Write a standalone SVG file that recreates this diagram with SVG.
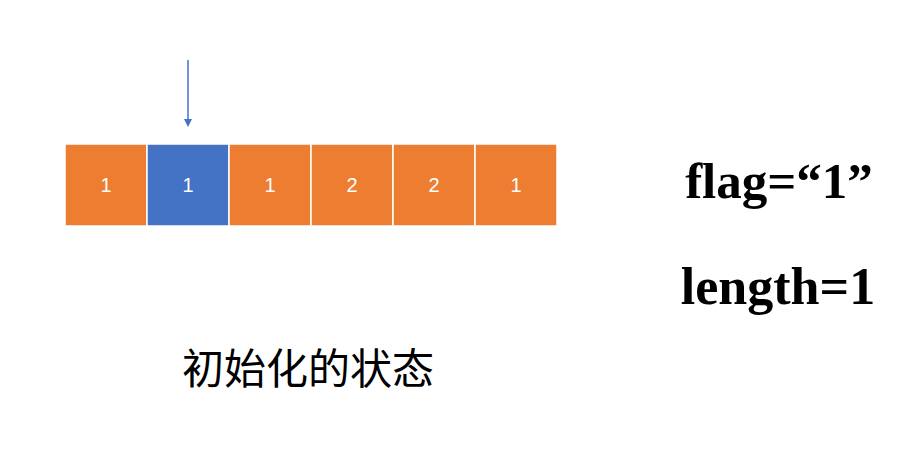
<svg xmlns="http://www.w3.org/2000/svg" width="902" height="474" viewBox="0 0 902 474">
<style>
.cell{stroke:#ffffff;stroke-width:1.5}
.o{fill:#ED7D31}
.b{fill:#4472C4}
.ct{font-family:"Liberation Sans",Arial,sans-serif;font-size:20px;fill:#ffffff;text-anchor:middle}
.big{font-family:"Liberation Serif","Times New Roman",serif;font-weight:bold;font-size:51px;fill:#000;text-anchor:middle}
.cap{font-family:"Noto Sans CJK SC",sans-serif;font-size:42px;fill:#000;text-anchor:middle}
</style>
<defs>
<marker id="ah" markerWidth="8" markerHeight="8" refX="4" refY="4" orient="auto" markerUnits="userSpaceOnUse">
<path d="M0,0 L8,4 L0,8 Z" fill="#4472C4"/>
</marker>
</defs>
<rect width="902" height="474" fill="#ffffff"/>
<g id="connectors">
<line x1="188" y1="60" x2="188" y2="123" stroke="#4472C4" stroke-width="1.5" marker-end="url(#ah)"/>
</g>
<g id="cell1"><rect class="cell o" x="65" y="144" width="82" height="82"/><text class="ct" x="106" y="192">1</text></g>
<g id="cell2"><rect class="cell b" x="147" y="144" width="82" height="82"/><text class="ct" x="188" y="192">1</text></g>
<g id="cell3"><rect class="cell o" x="229" y="144" width="82" height="82"/><text class="ct" x="270" y="192">1</text></g>
<g id="cell4"><rect class="cell o" x="311" y="144" width="82" height="82"/><text class="ct" x="352" y="192">2</text></g>
<g id="cell5"><rect class="cell o" x="393" y="144" width="82" height="82"/><text class="ct" x="434" y="192">2</text></g>
<g id="cell6"><rect class="cell o" x="475" y="144" width="82" height="82"/><text class="ct" x="516" y="192">1</text></g>
<g id="flag"><text class="big" x="779" y="198">flag=“1”</text></g>
<g id="length"><text class="big" x="778" y="304" style="font-size:52px">length=1</text></g>
<g id="caption"><text class="cap" x="308" y="384">初始化的状态</text></g>
</svg>
